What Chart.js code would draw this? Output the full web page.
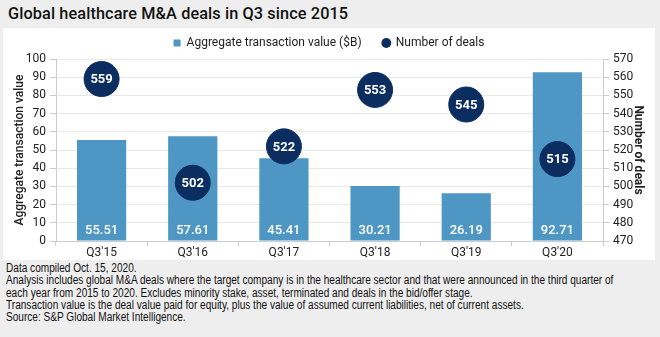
<!DOCTYPE html>
<html><head><meta charset="utf-8">
<script src="https://cdn.jsdelivr.net/npm/chart.js@4"></script>
<style>
html,body{margin:0;padding:0;background:#eeeeee;width:660px;height:337px;overflow:hidden;}
#title{position:absolute;left:8px;top:4px;font-family:Roboto,"Liberation Sans",sans-serif;font-weight:500;font-size:16.3px;color:#111;letter-spacing:0.1px;}
#panel{position:absolute;left:3px;top:28px;width:652px;height:232px;background:#fff;}
#notes{position:absolute;left:6px;top:262px;width:800px;white-space:nowrap;font-family:"Liberation Sans",Arial,sans-serif;font-size:12px;line-height:12.3px;color:#111;transform:scaleX(0.84);transform-origin:0 0;}
</style></head>
<body>
<div id="title">Global healthcare M&amp;A deals in Q3 since 2015</div>
<div id="panel"><canvas id="c" width="652" height="232"></canvas></div>
<div id="notes">Data compiled Oct. 15, 2020.<br>Analysis includes global M&amp;A deals where the target company is in the healthcare sector and that were announced in the third quarter of<br>each year from 2015 to 2020. Excludes minority stake, asset, terminated and deals in the bid/offer stage.<br>Transaction value is the deal value paid for equity, plus the value of assumed current liabilities, net of current assets.<br>Source: S&amp;P Global Market Intelligence.</div>
<script>
const categories = ["Q3'15","Q3'16","Q3'17","Q3'18","Q3'19","Q3'20"];
const transactionValue = [55.51, 57.61, 45.41, 30.21, 26.19, 92.71];
const numberOfDeals = [559, 502, 522, 553, 545, 515];
const leftTicks = [0,10,20,30,40,50,60,70,80,90,100];
const rightTicks = [470,480,490,500,510,520,530,540,550,560,570];

const BAR = '#4e97c4';
const DOT = '#0b2d5f';
const FONT = 'Roboto, "Liberation Sans", sans-serif';

const labelPlugin = {
  id: 'labels',
  afterDatasetsDraw(chart) {
    const ctx = chart.ctx;
    ctx.save();
    ctx.fillStyle = '#fff';
    ctx.textAlign = 'center';
    ctx.textBaseline = 'middle';
    const barMeta = chart.getDatasetMeta(1);
    ctx.font = '500 13px ' + FONT;
    barMeta.data.forEach((el, i) => {
      ctx.fillText(transactionValue[i].toFixed(2), el.x, el.base - 10);
    });
    const dotMeta = chart.getDatasetMeta(0);
    ctx.font = 'bold 13px ' + FONT;
    dotMeta.data.forEach((el, i) => {
      ctx.fillText(String(numberOfDeals[i]), el.x, el.y + 1);
    });
    ctx.restore();
  }
};

new Chart(document.getElementById('c'), {
  data: {
    labels: categories,
    datasets: [
      {
        type: 'line',
        label: 'Number of deals',
        data: numberOfDeals,
        yAxisID: 'y1',
        showLine: false,
        pointRadius: 17.5,
        pointHoverRadius: 17.5,
        pointBackgroundColor: DOT,
        pointBorderColor: DOT,
        backgroundColor: DOT,
        borderColor: DOT,
        order: 0
      },
      {
        type: 'bar',
        label: 'Aggregate transaction value ($B)',
        data: transactionValue,
        yAxisID: 'y',
        backgroundColor: BAR,
        borderWidth: 0,
        barPercentage: 0.54,
        categoryPercentage: 1.0,
        order: 1
      }
    ]
  },
  options: {
    responsive: false,
    animation: false,
    events: [],
    layout: { padding: { top: 0, left: 0, right: 0, bottom: 0 } },
    plugins: {
      tooltip: { enabled: false },
      legend: {
        labels: {
          font: { family: FONT, size: 12 },
          color: '#222',
          boxWidth: 7,
          boxHeight: 7,
          padding: 9,
          usePointStyle: true,
          generateLabels(chart) {
            return [
              { text: 'Aggregate transaction value ($B)\u2003', fillStyle: BAR, strokeStyle: BAR, lineWidth: 0, pointStyle: 'rect', datasetIndex: 1, fontColor: '#222' },
              { text: 'Number of deals', fillStyle: DOT, strokeStyle: DOT, lineWidth: 0, pointStyle: 'circle', datasetIndex: 0, fontColor: '#222' }
            ];
          }
        }
      }
    },
    scales: {
      x: {
        offset: true,
        afterFit(s) { s.height = 19; },
        grid: { display: true, drawOnChartArea: false, offset: true, tickLength: 5, color: '#cccccc' },
        border: { color: '#cccccc' },
        ticks: { font: { family: FONT, size: 12 }, color: '#222', padding: 0, autoSkip: false, maxRotation: 0 }
      },
      y: {
        position: 'left',
        min: 0, max: 100,
        afterBuildTicks(s) { s.ticks = leftTicks.map(v => ({ value: v })); },
        afterFit(s) { s.width = 53; },
        grid: { color: '#e8e8e8', tickLength: 6, tickColor: '#cccccc' },
        border: { color: '#cccccc' },
        ticks: { font: { family: FONT, size: 12 }, color: '#222', padding: 4, autoSkip: false },
        title: { display: true, text: 'Aggregate transaction value', font: { family: FONT, size: 12, weight: '500' }, color: '#222', padding: { top: 10, bottom: 0 } }
      },
      y1: {
        position: 'right',
        min: 470, max: 570,
        afterBuildTicks(s) { s.ticks = rightTicks.map(v => ({ value: v })); },
        afterFit(s) { s.width = 52; },
        grid: { drawOnChartArea: false, tickLength: 6, color: '#cccccc' },
        border: { color: '#cccccc' },
        ticks: { font: { family: FONT, size: 12 }, color: '#222', padding: 4, autoSkip: false },
        title: { display: true, text: 'Number of deals', font: { family: FONT, size: 12, weight: 'bold' }, color: '#222', padding: { top: 10, bottom: 0 } }
      }
    }
  },
  plugins: [labelPlugin]
});
</script>
</body></html>
